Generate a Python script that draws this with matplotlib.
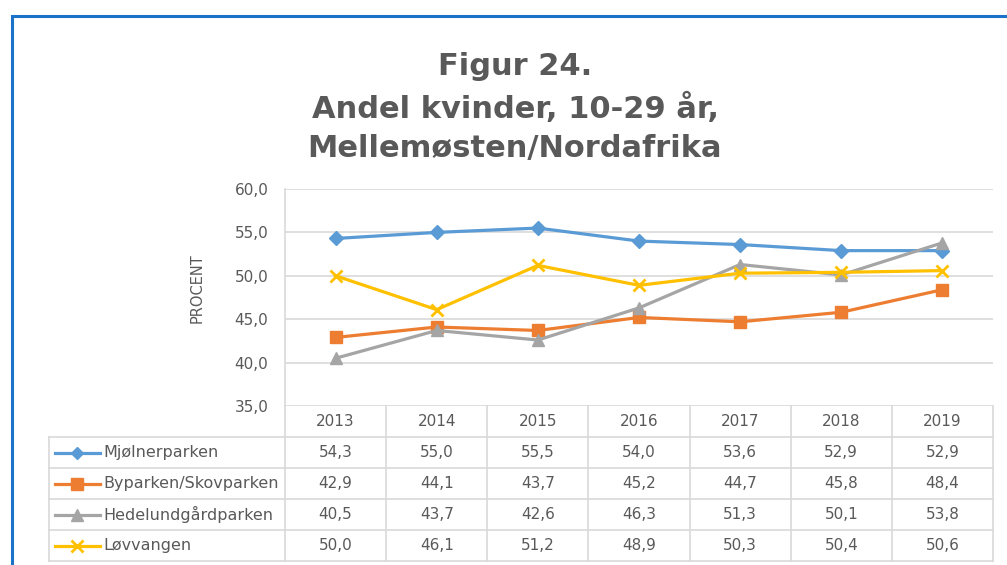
import matplotlib.pyplot as plt
from matplotlib.patches import Rectangle
from matplotlib.lines import Line2D

years = ['2013', '2014', '2015', '2016', '2017', '2018', '2019']
series_names = ['Mjølnerparken', 'Byparken/Skovparken', 'Hedelundgårdparken', 'Løvvangen']
mjolner = [54.3, 55.0, 55.5, 54.0, 53.6, 52.9, 52.9]
byparken = [42.9, 44.1, 43.7, 45.2, 44.7, 45.8, 48.4]
hedelund = [40.5, 43.7, 42.6, 46.3, 51.3, 50.1, 53.8]
lovvangen = [50.0, 46.1, 51.2, 48.9, 50.3, 50.4, 50.6]
title_lines = ['Figur 24.', 'Andel kvinder, 10-29 år,', 'Mellemøsten/Nordafrika']

colors = ['#5B9BD5', '#ED7D31', '#A5A5A5', '#FFC000']
markers = ['D', 's', '^', 'x']
msizes = [7, 9, 9, 9]
txt = '#595959'
grid = '#D9D9D9'

W, H = 1007, 565
fig = plt.figure(figsize=(W / 100, H / 100), dpi=100)


def fx(px):
    return px / W


def fy(py):
    return 1 - py / H


# blue frame around the chart
fig.patches.append(Rectangle((fx(12), fy(1000)), 2, fy(16) - fy(1000),
                             transform=fig.transFigure, fill=False,
                             edgecolor='#1A73C9', linewidth=2.2))

for i, line in enumerate(title_lines):
    fig.text(fx(515), fy([75, 118, 157][i]), line, ha='center', va='baseline',
             fontsize=22, fontweight='bold', color=txt)

# plot area
ax = fig.add_axes([fx(285), fy(406), (993 - 285) / W, (406 - 189) / H])
data = [mjolner, byparken, hedelund, lovvangen]
xs = list(range(len(years)))
for vals, c, m, ms in zip(data, colors, markers, msizes):
    ax.plot(xs, vals, color=c, lw=2.3, marker=m, markersize=ms,
            markeredgewidth=2 if m == 'x' else 1, markeredgecolor=c, clip_on=False)
ax.set_xlim(-0.5, len(years) - 0.5)
ax.set_ylim(35, 60)
ax.set_yticks([35, 40, 45, 50, 55, 60])
ax.set_yticklabels([f'{v:.1f}'.replace('.', ',') for v in ax.get_yticks()],
                   color=txt, fontsize=11)
ax.set_xticks([])
ax.tick_params(axis='y', length=0, pad=12)
ax.grid(axis='y', color=grid, lw=1.2)
ax.set_axisbelow(True)
for s in ['top', 'right', 'bottom']:
    ax.spines[s].set_visible(False)
ax.spines['left'].set_color(grid)
ax.spines['left'].set_linewidth(1.2)
ax.set_ylabel('PROCENT', color=txt, fontsize=10.5)
ax.yaxis.set_label_coords(-0.114, 0.545)

# data table below
left_px, right_px = 49, 993
step = (993 - 285) / len(years)
x0 = -0.5 - (285 - left_px) / step
tax = fig.add_axes([fx(left_px), fy(561), (right_px - left_px) / W, (561 - 406) / H])
tax.set_xlim(x0, len(years) - 0.5)
tax.set_ylim(5, 0)
tax.axis('off')


def px2x(px):
    return x0 + (px - left_px) / step


lk = dict(color=grid, lw=1.2, clip_on=False)
for r in range(1, 6):
    tax.plot([x0, len(years) - 0.5], [r, r], **lk)
tax.plot([x0, x0], [1, 5], **lk)
for k in range(len(years) + 1):
    tax.plot([k - 0.5, k - 0.5], [0, 5], **lk)

for k, y in enumerate(years):
    tax.text(k, 0.5, y, ha='center', va='center', color=txt, fontsize=11)

for r, (name, vals, c, m, ms) in enumerate(zip(series_names, data, colors, markers, msizes), start=1):
    tax.add_line(Line2D([px2x(55), px2x(100)], [r + 0.5, r + 0.5], color=c, lw=2.3))
    tax.plot([px2x(77.5)], [r + 0.5], marker=m, color=c, markersize=ms - 1,
             markeredgewidth=2 if m == 'x' else 1)
    tax.text(px2x(103), r + 0.5, name, ha='left', va='center', color=txt, fontsize=11.5)
    for k, v in enumerate(vals):
        tax.text(k, r + 0.5, f'{v:.1f}'.replace('.', ','), ha='center', va='center',
                 color=txt, fontsize=11)

fig.savefig('out.png', dpi=100)
